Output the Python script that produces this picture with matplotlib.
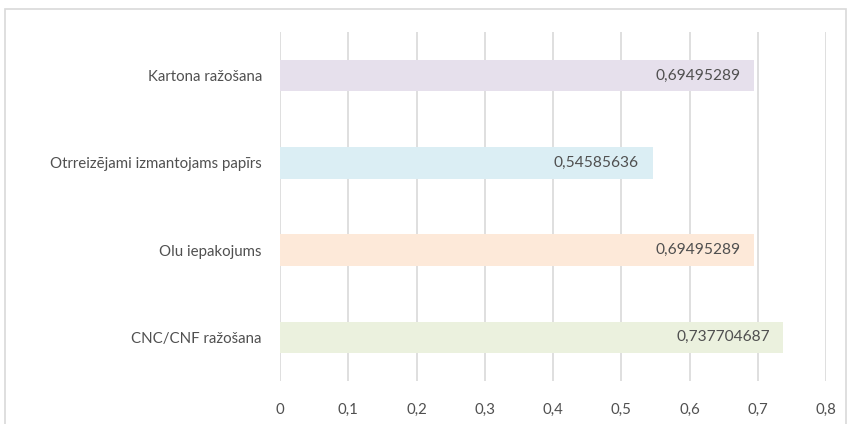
import matplotlib
matplotlib.use("Agg")
import matplotlib.pyplot as plt
from matplotlib.patches import Rectangle
from matplotlib.ticker import FuncFormatter, MultipleLocator

categories = ["CNC/CNF ražošana", "Olu iepakojums",
              "Otrreizējami izmantojams papīrs", "Kartona ražošana"]
values = [0.737704687, 0.69495289, 0.54585636, 0.69495289]
labels = ["0,737704687", "0,69495289", "0,54585636", "0,69495289"]
colors = ["#EBF1DE", "#FDE9D9", "#DBEEF4", "#E6E0EC"]

plt.rcParams["font.family"] = ["Lato", "DejaVu Sans"]
text_color = "#505050"

W, H = 848, 424
fig = plt.figure(figsize=(W / 100, H / 100), dpi=100)
ax = fig.add_axes([280 / W, 1 - 381 / H, (826 - 280) / W, (381 - 32) / H])

y = range(len(categories))
ax.barh(y, values, height=0.36, color=colors, zorder=2)
for yi, v, lab in zip(y, values, labels):
    ax.text(v - 0.02, yi, lab, ha="right", va="center",
            fontsize=11.2, color=text_color, zorder=3)

ax.set_xlim(0, 0.8)
ax.set_ylim(-0.5, len(categories) - 0.5)
ax.xaxis.set_major_locator(MultipleLocator(0.1))
ax.xaxis.set_major_formatter(FuncFormatter(
    lambda v, p: ("%g" % round(v, 1)).replace(".", ",")))
ax.set_yticks(list(y))
ax.set_yticklabels(categories)
ax.tick_params(axis="y", length=0, pad=13, labelsize=10.8, labelcolor=text_color)
ax.tick_params(axis="x", length=0, pad=16, labelsize=10.8, labelcolor=text_color)
ax.grid(axis="x", color="#D9D9D9", linewidth=1.2, zorder=0)
for s in ax.spines.values():
    s.set_visible(False)

# outer chart frame
fig.patches.append(Rectangle((5 / W, -0.05), (846 - 5) / W, 1.05 - 9 / H,
                             transform=fig.transFigure, fill=False,
                             edgecolor="#D9D9D9", linewidth=1.2))

fig.savefig("out.png", dpi=100)
